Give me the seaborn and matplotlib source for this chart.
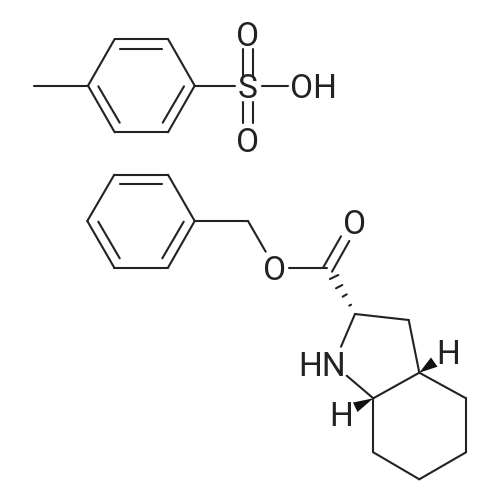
"""
plot.py - skeletal formula of the tosylate salt, drawn as bond segments with seaborn
"""
import pandas as pd
import matplotlib
matplotlib.use("Agg")
import matplotlib.pyplot as plt
import seaborn as sns

# -----------------------------
# Data (image pixels)
# -----------------------------
TOS_X = [34, 88, 88, 114.7, 114.7, 168, 168, 194.7, 194.7, 168, 168, 114.7, 114.7, 88]
TOS_Y = [85.7, 85.7, 85.7, 39, 39, 39, 39, 85.7, 85.7, 132.3, 132.3, 132.3, 132.3, 85.7]

TOS_INNER_X = [120, 162.3, 98.3, 119.7, 184, 162.7]
TOS_INNER_Y = [49.3, 49.3, 86.3, 122.7, 86.3, 122.7]

SULFONYL_X = [194.7, 235, 261.7, 287.7, 243, 243, 253, 253, 243, 243, 253, 253]
SULFONYL_Y = [85.7, 85.7, 85.7, 85.7, 49.3, 76, 49.3, 76, 101.7, 123.3, 101.7, 123.3]

BENZYL_X = [87.3, 114.3, 114.3, 168, 168, 194.7, 194.7, 168, 168, 114.3, 114.3, 87.3,
            120, 162, 98.3, 119.7, 183.7, 162.3]
BENZYL_Y = [221, 174.7, 174.7, 174.7, 174.7, 221, 221, 267.7, 267.7, 267.7, 267.7, 221,
            184.3, 184.3, 221.7, 258.3, 221.7, 258.3]

ESTER_X = [194.7, 248, 248, 265.7, 289, 326.7, 323.3, 341, 332, 349.3]
ESTER_Y = [221, 221, 221, 251.7, 267.7, 267.7, 267.3, 236.3, 271.7, 241]

INDOLE_X = [355, 341, 355, 408.7, 408.7, 419.3, 419.3, 373.3, 346.7, 373.3,
            419.3, 466, 466, 466, 466, 419.3, 419.3, 373.3, 373.3, 373.3]
INDOLE_Y = [314, 346.7, 314, 320, 320, 372.7, 372.7, 398.3, 375.7, 398.3,
            372.7, 398.3, 398.3, 452.3, 452.3, 479.3, 479.3, 452.3, 452.3, 398.3]

HATCH_X = [330, 338.3, 336, 342.3, 342.7, 346.7, 349.3, 351]
HATCH_Y = [279, 275, 288.3, 285, 296.7, 294.3, 305.7, 304.7]

WEDGE_A_X = [419.3, 431, 437.5]
WEDGE_A_Y = [372.7, 357.5, 366.7]
WEDGE_B_X = [373.3, 353, 357.5]
WEDGE_B_Y = [398.3, 402.5, 412]

LABELS = ["O", "S", "OH", "O", "O", "O", "HN", "H", "H"]
LABEL_X = [248, 248, 313, 248, 275, 355, 321.7, 448.3, 340.7]
LABEL_Y = [33.3, 85.7, 85.7, 139.3, 267.7, 222, 363.3, 351.7, 413.3]

INK = "#222222"


# -----------------------------
# Helpers
# -----------------------------
def to_segments(xs, ys, start=0):
    # every two points make one bond
    return pd.DataFrame({
        "x": xs,
        "y": ys,
        "bond": [start + i // 2 for i in range(len(xs))],
    })


def main():
    sns.set_style("white")
    plt.rcParams["font.family"] = ["Roboto", "DejaVu Sans"]

    bonds = pd.concat([
        to_segments(TOS_X, TOS_Y, 0),
        to_segments(TOS_INNER_X, TOS_INNER_Y, 100),
        to_segments(SULFONYL_X, SULFONYL_Y, 200),
        to_segments(BENZYL_X, BENZYL_Y, 300),
        to_segments(ESTER_X, ESTER_Y, 400),
        to_segments(INDOLE_X, INDOLE_Y, 500),
    ], ignore_index=True)
    hatch = to_segments(HATCH_X, HATCH_Y, 600)

    fig = plt.figure(figsize=(5, 5), dpi=100)
    ax = fig.add_axes([0, 0, 1, 1])

    sns.lineplot(data=bonds, x="x", y="y", units="bond", estimator=None, sort=False,
                 color=INK, linewidth=1.5, ax=ax, legend=False,
                 solid_capstyle="round")
    sns.lineplot(data=hatch, x="x", y="y", units="bond", estimator=None, sort=False,
                 color=INK, linewidth=1.5, ax=ax, legend=False)

    ax.fill(WEDGE_A_X, WEDGE_A_Y, color="#111111", linewidth=0)
    ax.fill(WEDGE_B_X, WEDGE_B_Y, color="#111111", linewidth=0)

    for label, x, y in zip(LABELS, LABEL_X, LABEL_Y):
        ax.text(x, y, label, ha="center", va="center_baseline", fontsize=24, color=INK)

    ax.set_xlim(0, 500)
    ax.set_ylim(500, 0)
    ax.set_axis_off()

    fig.savefig("out.png", dpi=100, facecolor="white")
    plt.close(fig)


if __name__ == "__main__":
    main()
